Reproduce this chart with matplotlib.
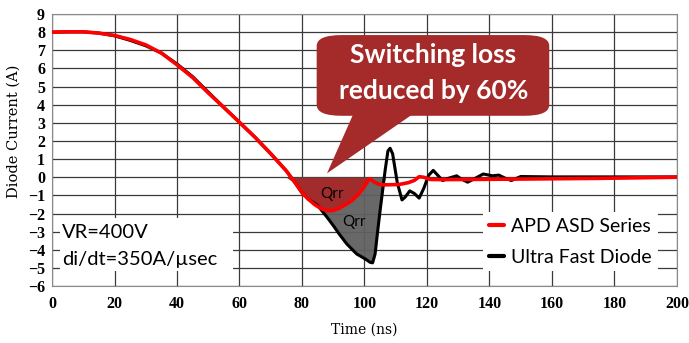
import matplotlib
matplotlib.use("Agg")
import matplotlib.pyplot as plt
from matplotlib.patches import FancyBboxPatch, Polygon, Rectangle
import numpy as np

# APD ASD series (red)
t_red = [0, 5, 10, 15, 20, 25, 30, 35, 40, 45, 50, 55, 60, 65, 70, 75, 78,
         80, 82, 84, 86, 88, 90, 92, 94, 96, 98, 100, 101.2, 101.8, 103,
         104.4, 106, 111, 114, 116, 117.5, 119, 121, 125, 150, 175, 200]
i_red = [8.0, 8.02, 8.02, 7.95, 7.82, 7.6, 7.3, 6.85, 6.2, 5.5, 4.65, 3.85,
         3.03, 2.2, 1.3, 0.35, -0.35,
         -0.85, -1.2, -1.5, -1.72, -1.85, -1.83, -1.7, -1.5, -1.28, -0.95,
         -0.5, -0.18, -0.08, -0.25, -0.37, -0.42, -0.4, -0.3, -0.17, 0.03,
         0.0, -0.12, -0.13, -0.1, -0.06, 0.0]

# Ultra fast diode (black)
t_blk = [0, 5, 10, 15, 20, 25, 30, 35, 40, 45, 50, 55, 60, 65, 70, 75, 78,
         80, 82, 85, 88, 90, 92, 94.3, 97.5, 100.2, 101.8, 102.6, 103.4,
         104.2, 105, 106.6, 107.5, 108.2, 109, 110.5, 112, 113, 114.5, 116,
         117.5, 119, 120.5, 122, 123.5, 125, 127, 129.5, 131, 133, 135, 138,
         141, 143, 145, 147, 150, 160, 200]
i_blk = [8.0, 8.02, 8.02, 7.95, 7.8, 7.55, 7.25, 6.85, 6.25, 5.55, 4.7, 3.85,
         3.03, 2.2, 1.3, 0.35, -0.35,
         -0.85, -1.2, -1.55, -2.2, -2.66, -3.15, -3.67, -4.23, -4.5, -4.69,
         -4.72, -4.23, -3.0, -1.84, 0.37, 1.45, 1.6, 1.3, -0.3, -1.25, -1.1,
         -0.75, -0.9, -1.15, -0.6, 0.1, 0.38, 0.1, -0.18, -0.05, 0.08, -0.1,
         -0.27, -0.1, 0.18, 0.08, 0.12, -0.05, -0.18, 0.04, 0.02, 0.02]

xticks = list(range(0, 201, 20))
yticks = list(range(-6, 10))

fig = plt.figure(figsize=(6.89, 3.43), dpi=100)
ax = fig.add_axes([0.0755, 0.166, 0.907, 0.793])

ax.set_xlim(0, 200)
ax.set_ylim(-6, 9)
ax.set_xticks(xticks)
ax.set_yticks(yticks)
ax.set_axisbelow(True)
ax.grid(True, color="#3a3a3a", lw=0.9)
for s in ax.spines.values():
    s.set_color("#8a8a8a")
ax.tick_params(length=0)
ax.tick_params(axis="x", pad=7)
ax.tick_params(axis="y", pad=5)
for lab in ax.get_xticklabels() + ax.get_yticklabels():
    lab.set_family("Liberation Serif")
    lab.set_fontweight("bold")
    lab.set_fontsize(11.5)

ax.set_xlabel("Time (ns)", family="DejaVu Serif", fontsize=10, labelpad=8)
ax.set_ylabel("Diode Current (A)", family="DejaVu Serif", fontsize=10.5)
ax.yaxis.set_label_coords(-0.05, 0.57)

# Qrr shading
tb = np.array(t_blk)
ib = np.array(i_blk)
tr = np.array(t_red)
ir = np.array(i_red)
mb = (tb >= 75) & (tb <= 106.6)
ax.fill_between(tb[mb], np.minimum(ib[mb], 0), 0, color="#606060", alpha=0.95,
                lw=0, zorder=2)
mr = (tr >= 75) & (tr <= 101.8)
ax.fill_between(tr[mr], np.minimum(ir[mr], 0), 0, color="#a52a2a", alpha=0.97,
                lw=0, zorder=2.1)

ax.plot(t_blk, i_blk, color="black", lw=2.2, zorder=3,
        solid_capstyle="round", label="Ultra Fast Diode")
ax.plot(t_red, i_red, color="#ff0000", lw=2.6, zorder=4,
        solid_capstyle="round", label="APD ASD Series")

ax.text(89.5, -0.9, "Qrr", ha="center", va="center", fontsize=11,
        family="Lato", zorder=5)
ax.text(96.6, -2.45, "Qrr", ha="center", va="center", fontsize=11,
        family="Lato", zorder=5)

# VR text box
ax.add_patch(Rectangle((0.0128, 0.055), 0.277, 0.195, transform=ax.transAxes,
                       facecolor="white", edgecolor="none", zorder=1))
ax.text(0.016, 0.196, "VR=400V", transform=ax.transAxes, va="center",
        fontsize=14.5, family=["Lato", "DejaVu Sans"], zorder=5)
ax.text(0.016, 0.099, "di/dt=350A/\u00b5sec", transform=ax.transAxes,
        va="center", fontsize=14.5, family=["Lato", "DejaVu Sans"], zorder=5)

# callout
callout_color = "#a52a2a"
ax.add_patch(FancyBboxPatch((0.4235, 0.626), 0.3722, 0.2968,
                            boxstyle="round,pad=0,rounding_size=0.04",
                            transform=ax.transAxes, facecolor=callout_color,
                            edgecolor="none", zorder=6,
                            mutation_aspect=1.0))
ax.add_patch(Polygon([(0.4816, 0.63), (0.576, 0.63), (0.44, 0.4143)],
                     closed=True, transform=ax.transAxes,
                     facecolor=callout_color, edgecolor="none", zorder=6))
ax.text(0.6104, 0.849, "Switching loss", transform=ax.transAxes, ha="center",
        va="center", color="white", fontsize=19, fontweight="bold",
        family="Lato", zorder=7)
ax.text(0.6104, 0.717, "reduced by 60%", transform=ax.transAxes, ha="center",
        va="center", color="white", fontsize=19, fontweight="bold",
        family="Lato", zorder=7)

# legend
h, l = ax.get_legend_handles_labels()
leg = ax.legend(h[::-1], l[::-1], loc="upper left", bbox_to_anchor=(0.69, 0.272),
                borderaxespad=0, frameon=True, fancybox=False, framealpha=1,
                edgecolor="none", handlelength=0.75, handletextpad=0.4,
                labelspacing=0.7, borderpad=0.3,
                prop={"family": "Lato", "size": 14})
leg.set_zorder(8)
for line in leg.get_lines():
    line.set_linewidth(3)

fig.savefig("out.png", dpi=100, facecolor="white")
